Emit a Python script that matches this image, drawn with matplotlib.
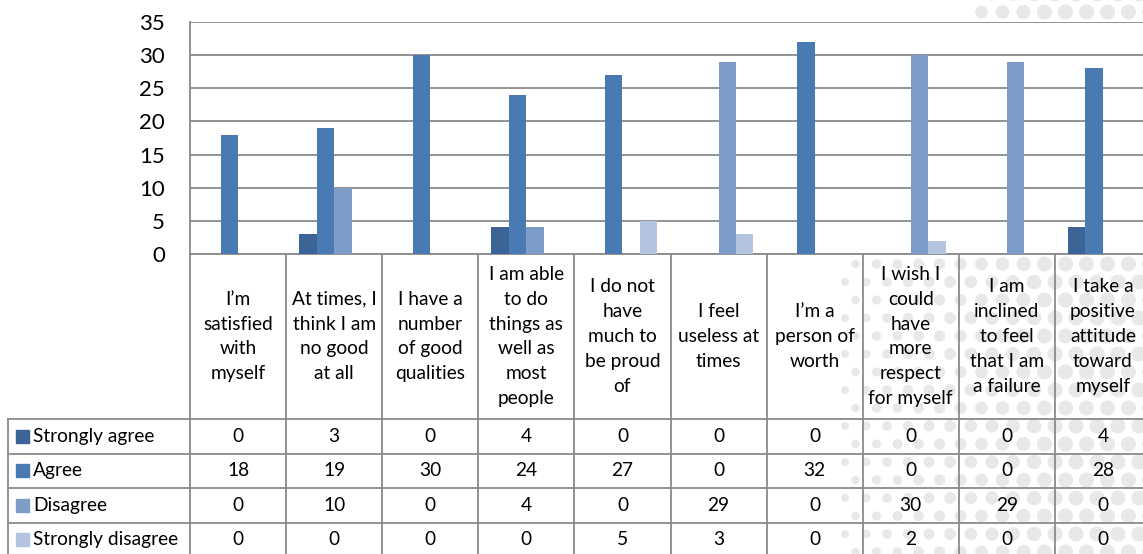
import numpy as np
import matplotlib
matplotlib.use("Agg")
import matplotlib.pyplot as plt
from matplotlib.patches import Circle, Rectangle

# ---- data ---------------------------------------------------------------
categories = [
    "I\u2019m\nsatisfied\nwith\nmyself",
    "At times, I\nthink I am\nno good\nat all",
    "I have a\nnumber\nof good\nqualities",
    "I am able\nto do\nthings as\nwell as\nmost\npeople",
    "I do not\nhave\nmuch to\nbe proud\nof",
    "I feel\nuseless at\ntimes",
    "I\u2019m a\nperson of\nworth",
    "I wish I\ncould\nhave\nmore\nrespect\nfor myself",
    "I am\ninclined\nto feel\nthat I am\na failure",
    "I take a\npositive\nattitude\ntoward\nmyself",
]
series_names = ["Strongly agree", "Agree", "Disagree", "Strongly disagree"]
strongly_agree = [0, 3, 0, 4, 0, 0, 0, 0, 0, 4]
agree = [18, 19, 30, 24, 27, 0, 32, 0, 0, 28]
disagree = [0, 10, 0, 4, 0, 29, 0, 30, 29, 0]
strongly_disagree = [0, 0, 0, 0, 5, 3, 0, 2, 0, 0]
y_ticks = [0, 5, 10, 15, 20, 25, 30, 35]

series_values = [strongly_agree, agree, disagree, strongly_disagree]
colors = ["#3C6496", "#4A7AB4", "#7E9CC8", "#B3C3E0"]

# ---- layout (pixels) ----------------------------------------------------
W, H, DPI = 1143, 554, 100
PLOT_L, PLOT_R = 190, 1151
PLOT_T, PLOT_B = 22, 254
HEAD_B = 419
ROW_EDGES = [419, 453.5, 488, 522.5, 557]
TABLE_L = 8
GRID = "#8A8A8A"
FONT = ["Lato", "DejaVu Sans"]
FS = 13.8

plt.rcParams["font.family"] = FONT
fig = plt.figure(figsize=(W / DPI, H / DPI), dpi=DPI)
fig.patch.set_facecolor("white")

def fx(px):
    return px / W

def fy(py):
    return 1 - py / H

# background halftone decoration
bg = fig.add_axes([0, 0, 1, 1], zorder=0)
bg.set_xlim(0, W)
bg.set_ylim(H, 0)
bg.axis("off")
step_x, step_y = 21.0, 18.0
for j, yy in enumerate(np.arange(-6, H + 20, step_y)):
    for xx in np.arange(845 + (step_x / 2 if j % 2 else 0), W + 20, step_x):
        inside_table = yy > PLOT_B
        inside_top = yy < PLOT_T + 4 and xx > 975
        if not (inside_table or inside_top):
            continue
        t = np.clip((xx - 845) / 200.0, 0, 1)
        r = 4.0 + 3.5 * t
        bg.add_patch(Circle((xx, yy), r, color="#E8E8E8", lw=0))

# ---- chart axes ---------------------------------------------------------
n = len(categories)
x = np.arange(n)
ax = fig.add_axes([fx(PLOT_L), fy(PLOT_B), fx(PLOT_R - PLOT_L), fy(PLOT_T) - fy(PLOT_B)], zorder=2)
ax.set_facecolor("white")
ax.set_xlim(-0.5, n - 0.5)
ax.set_ylim(0, 35)

bar_w = 1 / 5.5
for i, (vals, col) in enumerate(zip(series_values, colors)):
    ax.bar(x + (i - 1.5) * bar_w, vals, width=bar_w, color=col, zorder=3,
           edgecolor=col, linewidth=0)

ax.set_yticks(y_ticks)
ax.set_yticklabels([str(v) for v in y_ticks], fontsize=16)
ax.tick_params(axis="y", length=0, pad=18)
ax.set_xticks([])
ax.yaxis.grid(True, color=GRID, linewidth=1.3, zorder=1)
ax.set_axisbelow(True)
for s in ["top", "right"]:
    ax.spines[s].set_visible(False)
for s in ["left", "bottom"]:
    ax.spines[s].set_color(GRID)
    ax.spines[s].set_linewidth(1.3)

# ---- data table ---------------------------------------------------------
tab = fig.add_axes([fx(PLOT_L), 0, fx(PLOT_R - PLOT_L), fy(PLOT_B)], zorder=3, sharex=ax)
tab.patch.set_alpha(0)
tab.set_ylim(H, PLOT_B)
tab.axis("off")
tab.set_xlim(-0.5, n - 0.5)

unit = (PLOT_R - PLOT_L) / n
def px_to_x(px):
    return -0.5 + (px - PLOT_L) / unit

lw = 1.3
for k in range(n + 1):
    tab.plot([k - 0.5, k - 0.5], [PLOT_B, H + 5], color=GRID, lw=lw, clip_on=False)
for yy in ROW_EDGES:
    tab.plot([px_to_x(TABLE_L), n - 0.5], [yy, yy], color=GRID, lw=lw, clip_on=False)
tab.plot([px_to_x(TABLE_L)] * 2, [HEAD_B, H + 5], color=GRID, lw=lw, clip_on=False)

head_c = (PLOT_B + HEAD_B) / 2
for k, lab in enumerate(categories):
    tab.text(k, head_c, lab, ha="center", va="center", fontsize=FS,
             linespacing=1.56, clip_on=False)

for r, (name, vals, col) in enumerate(zip(series_names, series_values, colors)):
    yc = (ROW_EDGES[r] + ROW_EDGES[r + 1]) / 2
    key_w = 13 / unit
    tab.add_patch(Rectangle((px_to_x(16), yc + 6.5), key_w, -13, color=col,
                            clip_on=False, transform=tab.transData))
    tab.text(px_to_x(33), yc, name, ha="left", va="center", fontsize=FS, clip_on=False)
    for k, v in enumerate(vals):
        tab.text(k, yc, str(v), ha="center", va="center", fontsize=FS, clip_on=False)

fig.savefig("out.png", dpi=DPI)
